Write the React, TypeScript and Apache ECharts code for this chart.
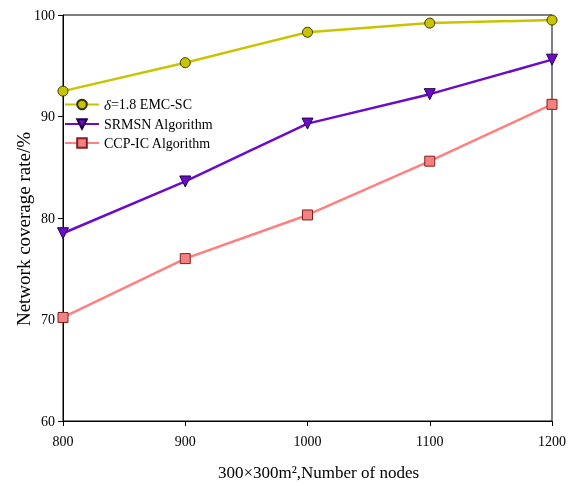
import React, { useEffect, useRef } from "react";
import * as echarts from "echarts";

const categories = [800, 900, 1000, 1100, 1200];
const emcSc = [92.5, 95.3, 98.3, 99.2, 99.5];
const srmsn = [78.5, 83.6, 89.3, 92.2, 95.6];
const ccpIc = [70.2, 76.0, 80.3, 85.6, 91.2];
const seriesNames = ["δ=1.8 EMC-SC", "SRMSN Algorithm", "CCP-IC Algorithm"];

const FONT = "'Liberation Serif', 'Times New Roman', serif";

export default function App() {
  const ref = useRef<HTMLDivElement>(null);
  useEffect(() => {
    if (!ref.current) return;
    const chart = echarts.init(ref.current, null, { renderer: "svg" });
    const mk = (arr: number[]) => arr.map((v, i) => [categories[i], v]);
    chart.setOption({
      animation: false,
      textStyle: { fontFamily: FONT },
      grid: {
        left: 63, right: 30, top: 15, bottom: 65,
        show: true, borderColor: "#000", borderWidth: 1,
        outerBoundsMode: "none",
        containLabel: false,
      },
      legend: {
        left: 59,
        top: 92,
        orient: "vertical",
        itemWidth: 34,
        itemHeight: 12,
        itemGap: 5,
        data: seriesNames,
        textStyle: {
          fontFamily: FONT,
          fontSize: 14,
          color: "#000",
          rich: {
            it: { fontStyle: "italic", fontFamily: FONT, fontSize: 15, color: "#000" },
            n: { fontFamily: FONT, fontSize: 14, color: "#000" },
          },
        },
        formatter: (name: string) =>
          name.startsWith("δ") ? "{it|δ}{n|" + name.slice(1) + "}" : name,
      },
      xAxis: {
        type: "value",
        min: 800,
        max: 1200,
        interval: 100,
        name: "300×300m²,Number of nodes",
        nameLocation: "middle",
        nameGap: 43,
        nameMoveOverlap: false,
        nameTextStyle: { fontFamily: FONT, fontSize: 17, color: "#000", padding: [0, 0, 0, 22] },
        axisLine: { lineStyle: { color: "#000", width: 1 } },
        axisTick: { length: 5, lineStyle: { color: "#000" } },
        axisLabel: { fontFamily: FONT, fontSize: 14, color: "#000", margin: 13, formatter: (v: number) => String(v) },
        splitLine: { show: false },
      },
      yAxis: {
        type: "value",
        min: 60,
        max: 100,
        interval: 10,
        name: "Network coverage rate/%",
        nameLocation: "middle",
        nameGap: 30,
        nameMoveOverlap: false,
        nameTextStyle: { fontFamily: FONT, fontSize: 19, color: "#000", padding: [0, 22, 0, 0] },
        axisLine: { show: true, lineStyle: { color: "#000", width: 1 } },
        axisTick: { show: true, length: 5, lineStyle: { color: "#000" } },
        axisLabel: { fontFamily: FONT, fontSize: 14, color: "#000", margin: 8 },
        splitLine: { show: false },
      },
      series: [
        {
          name: seriesNames[0],
          type: "line",
          data: mk(emcSc),
          symbol: "circle",
          symbolSize: 10,
          lineStyle: { color: "#c8c400", width: 2.5 },
          itemStyle: { color: "#c8c400", borderColor: "#333300", borderWidth: 1 },
        },
        {
          name: seriesNames[1],
          type: "line",
          data: mk(srmsn),
          symbol: "triangle",
          symbolRotate: 180,
          symbolSize: 11,
          lineStyle: { color: "#6a0cc8", width: 2.5 },
          itemStyle: { color: "#6a0cc8", borderColor: "#220044", borderWidth: 1 },
        },
        {
          name: seriesNames[2],
          type: "line",
          data: mk(ccpIc),
          symbol: "rect",
          symbolSize: 10,
          lineStyle: { color: "#ff8080", width: 2.5 },
          itemStyle: { color: "#f48080", borderColor: "#802020", borderWidth: 1 },
        },
      ],
    });
    return () => chart.dispose();
  }, []);
  return <div ref={ref} style={{ position: "fixed", left: 0, top: 0, width: 582, height: 486 }} />;
}
